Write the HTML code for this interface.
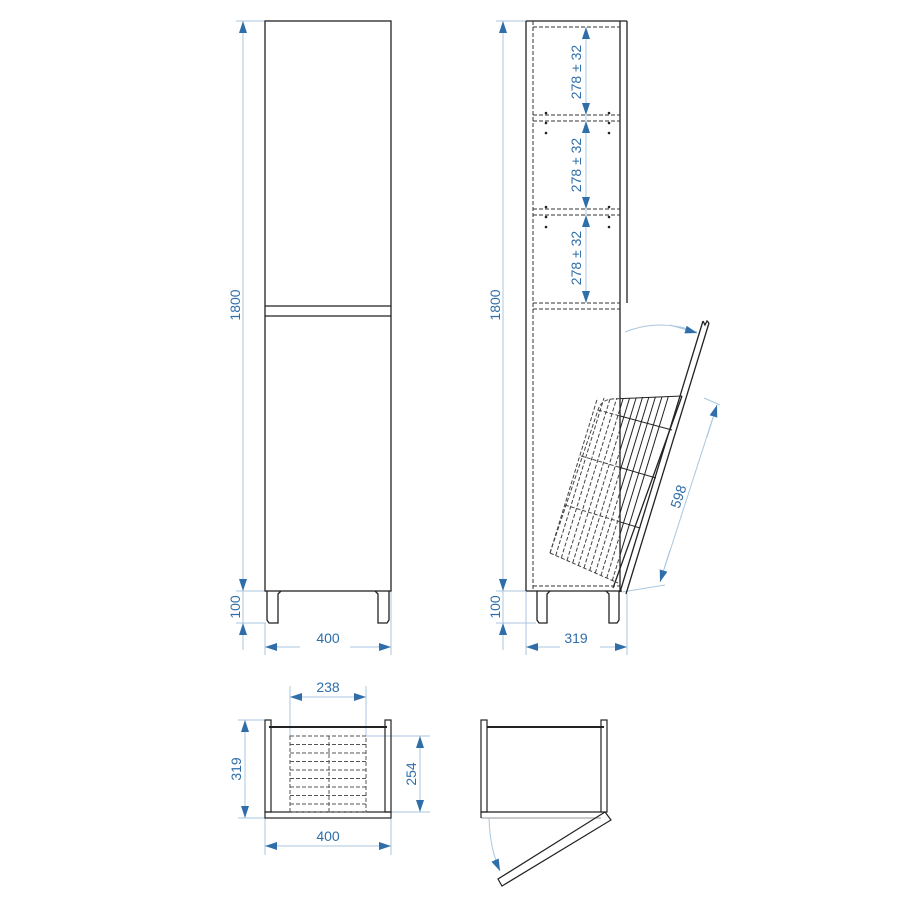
<!DOCTYPE html>
<html><head><meta charset="utf-8"><style>
html,body{margin:0;padding:0;background:#fff}
svg{display:block}
text{font-family:"Liberation Sans",sans-serif;fill:#2f6ea8;font-size:14px}
</style></head><body>
<svg width="900" height="900" viewBox="0 0 900 900" xmlns="http://www.w3.org/2000/svg">
<defs>
<marker id="a" markerWidth="12" markerHeight="8" refX="12" refY="4" orient="auto" markerUnits="userSpaceOnUse"><path d="M0,0 L12,4 L0,8 Z" fill="#2f6ea8"/></marker>
<clipPath id="cr"><rect x="620" y="0" width="200" height="900"/></clipPath>
<clipPath id="cl"><rect x="0" y="0" width="620" height="900"/></clipPath>
</defs>
<g stroke="#a9c7df" stroke-width="1" fill="none">
<line x1="236" y1="21" x2="265" y2="21"/>
<line x1="236" y1="591" x2="265" y2="591"/>
<line x1="236" y1="623" x2="266" y2="623"/>
<line x1="265" y1="623" x2="265" y2="655"/>
<line x1="391" y1="591" x2="391" y2="655"/>
<line x1="243" y1="21" x2="243" y2="640"/>
<line x1="496" y1="21" x2="526" y2="21"/>
<line x1="496" y1="591" x2="526" y2="591"/>
<line x1="496" y1="623" x2="536" y2="623"/>
<line x1="503" y1="21" x2="503" y2="640"/>
<line x1="526" y1="591" x2="526" y2="655"/>
<line x1="627" y1="594" x2="627" y2="655"/>
<line x1="586" y1="27" x2="586" y2="303"/>
<line x1="622" y1="592" x2="665" y2="585"/>
<line x1="704" y1="398" x2="720" y2="405"/>
<line x1="660" y1="582" x2="717" y2="405"/>
<path d="M625,332 Q660,318 697,332"/>
<line x1="290" y1="686" x2="290" y2="736"/>
<line x1="366" y1="686" x2="366" y2="736"/>
<line x1="290" y1="697" x2="366" y2="697"/>
<line x1="238" y1="720" x2="265" y2="720"/>
<line x1="238" y1="818" x2="265" y2="818"/>
<line x1="245" y1="720" x2="245" y2="818"/>
<line x1="366" y1="736" x2="430" y2="736"/>
<line x1="366" y1="812" x2="430" y2="812"/>
<line x1="420" y1="736" x2="420" y2="812"/>
<line x1="265" y1="818" x2="265" y2="855"/>
<line x1="391" y1="818" x2="391" y2="855"/>
<line x1="265" y1="846" x2="391" y2="846"/>
<path d="M489,818 Q490,850 500,870"/>
</g>
<g stroke="#a9c7df" stroke-width="1" fill="none">
<line x1="243" y1="60" x2="243" y2="21" marker-end="url(#a)"/>
<line x1="243" y1="560" x2="243" y2="591" marker-end="url(#a)"/>
<line x1="243" y1="650" x2="243" y2="623" marker-end="url(#a)"/>
<line x1="300" y1="647" x2="265" y2="647" marker-end="url(#a)"/>
<line x1="350" y1="647" x2="391" y2="647" marker-end="url(#a)"/>
<line x1="503" y1="60" x2="503" y2="21" marker-end="url(#a)"/>
<line x1="503" y1="560" x2="503" y2="591" marker-end="url(#a)"/>
<line x1="503" y1="650" x2="503" y2="623" marker-end="url(#a)"/>
<line x1="560" y1="647" x2="526" y2="647" marker-end="url(#a)"/>
<line x1="600" y1="647" x2="627" y2="647" marker-end="url(#a)"/>
<line x1="586" y1="60" x2="586" y2="27" marker-end="url(#a)"/>
<line x1="586" y1="90" x2="586" y2="115" marker-end="url(#a)"/>
<line x1="586" y1="150" x2="586" y2="121" marker-end="url(#a)"/>
<line x1="586" y1="180" x2="586" y2="209" marker-end="url(#a)"/>
<line x1="586" y1="240" x2="586" y2="215" marker-end="url(#a)"/>
<line x1="586" y1="270" x2="586" y2="303" marker-end="url(#a)"/>
<line x1="670" y1="550" x2="660" y2="582" marker-end="url(#a)"/>
<line x1="707" y1="437" x2="717" y2="405" marker-end="url(#a)"/>
<line x1="670" y1="325" x2="697" y2="333" marker-end="url(#a)"/>
<line x1="320" y1="697" x2="290" y2="697" marker-end="url(#a)"/>
<line x1="336" y1="697" x2="366" y2="697" marker-end="url(#a)"/>
<line x1="245" y1="750" x2="245" y2="720" marker-end="url(#a)"/>
<line x1="245" y1="790" x2="245" y2="818" marker-end="url(#a)"/>
<line x1="420" y1="760" x2="420" y2="736" marker-end="url(#a)"/>
<line x1="420" y1="790" x2="420" y2="812" marker-end="url(#a)"/>
<line x1="300" y1="846" x2="265" y2="846" marker-end="url(#a)"/>
<line x1="356" y1="846" x2="391" y2="846" marker-end="url(#a)"/>
<line x1="495" y1="860" x2="500" y2="871" marker-end="url(#a)"/>
</g>
<text transform="translate(240,305) rotate(-90)" text-anchor="middle">1800</text>
<text transform="translate(240,607) rotate(-90)" text-anchor="middle">100</text>
<text x="328" y="643" text-anchor="middle">400</text>
<text transform="translate(500,305) rotate(-90)" text-anchor="middle">1800</text>
<text transform="translate(500,607) rotate(-90)" text-anchor="middle">100</text>
<text x="576" y="643" text-anchor="middle">319</text>
<text transform="translate(581,72) rotate(-90)" text-anchor="middle">278 ± 32</text>
<text transform="translate(581,165) rotate(-90)" text-anchor="middle">278 ± 32</text>
<text transform="translate(581,258) rotate(-90)" text-anchor="middle">278 ± 32</text>
<text transform="translate(683,498) rotate(-72)" text-anchor="middle">598</text>
<text x="328" y="692" text-anchor="middle">238</text>
<text transform="translate(241,769) rotate(-90)" text-anchor="middle">319</text>
<text transform="translate(416,774) rotate(-90)" text-anchor="middle">254</text>
<text x="328" y="841" text-anchor="middle">400</text>
<g stroke="#222" stroke-width="1.3" fill="none">
<rect x="265" y="21" width="126" height="570"/>
<line x1="265" y1="306" x2="391" y2="306"/>
<line x1="265" y1="316" x2="391" y2="316"/>
<path d="M267,591 V620 L269,623 H278 V594 L281,591"/>
<path d="M389,591 V620 L387,623 H378 V594 L375,591"/>
</g>
<g stroke="#222" stroke-width="1.3" fill="none">
<line x1="526" y1="21" x2="526" y2="591"/>
<line x1="526" y1="21" x2="627" y2="21"/>
<line x1="627" y1="21" x2="627" y2="303"/>
<line x1="620" y1="21" x2="620" y2="592"/>
<line x1="526" y1="591" x2="622" y2="591"/>
<path d="M537,591 V620 L539,623 H547 V594 L550,591"/>
<path d="M619,591 V620 L617,623 H609 V594 L606,591"/>
<line x1="626" y1="594" x2="709" y2="323"/>
<line x1="620" y1="592" x2="703" y2="321"/>
<line x1="613" y1="588" x2="682" y2="396"/>
<path d="M703,321 L705,325 L707,321 L709,323"/>
</g>
<g stroke="#333" stroke-width="1" stroke-dasharray="4,2" fill="none">
<line x1="533" y1="21" x2="533" y2="591"/>
<line x1="533" y1="27" x2="620" y2="27"/>
<line x1="533" y1="115" x2="620" y2="115"/>
<line x1="533" y1="121" x2="620" y2="121"/>
<line x1="533" y1="209" x2="620" y2="209"/>
<line x1="533" y1="215" x2="620" y2="215"/>
<line x1="533" y1="303" x2="620" y2="303"/>
<line x1="533" y1="309" x2="620" y2="309"/>
<line x1="533" y1="586" x2="620" y2="586"/>
</g>
<g fill="#222">
<circle cx="546" cy="113" r="1.3"/><circle cx="546" cy="123" r="1.3"/><circle cx="546" cy="133" r="1.3"/>
<circle cx="609" cy="113" r="1.3"/><circle cx="609" cy="123" r="1.3"/><circle cx="609" cy="133" r="1.3"/>
<circle cx="546" cy="207" r="1.3"/><circle cx="546" cy="217" r="1.3"/><circle cx="546" cy="227" r="1.3"/>
<circle cx="609" cy="207" r="1.3"/><circle cx="609" cy="217" r="1.3"/><circle cx="609" cy="227" r="1.3"/>
</g>
<g id="bk" stroke-width="1" fill="none">
<path d="M550,553 L598,410 Q601,400 612,399 L682,396"/>
<line x1="550" y1="553" x2="618" y2="583"/>
<line x1="550" y1="553" x2="597.5" y2="398"/>
<line x1="555.7" y1="555.5" x2="604" y2="398"/>
<line x1="561.3" y1="558" x2="610.3" y2="398"/>
<line x1="567" y1="560.5" x2="616.8" y2="398"/>
<line x1="572.7" y1="563" x2="623.3" y2="398"/>
<line x1="578.3" y1="565.5" x2="629.6" y2="398"/>
<line x1="584" y1="568" x2="636.1" y2="398"/>
<line x1="589.7" y1="570.5" x2="642.6" y2="397"/>
<line x1="595.3" y1="573" x2="648.9" y2="397"/>
<line x1="601" y1="575.5" x2="655.4" y2="397"/>
<line x1="606.7" y1="578" x2="661.9" y2="397"/>
<line x1="612.3" y1="580.5" x2="668.2" y2="397"/>
<line x1="598" y1="410" x2="672" y2="430"/>
<line x1="581" y1="456" x2="656" y2="478"/>
<line x1="565" y1="505" x2="640" y2="528"/>
</g>
<use href="#bk" stroke="#444" stroke-dasharray="4,2" clip-path="url(#cl)"/>
<use href="#bk" stroke="#222" clip-path="url(#cr)"/>
<g stroke="#222" stroke-width="1.2" fill="none">
<rect x="265" y="720" width="6" height="92"/>
<rect x="385" y="720" width="6" height="92"/>
<rect x="265" y="812" width="126" height="6"/>
<line x1="269" y1="727" x2="387" y2="727" stroke-width="2"/>
</g>
<g stroke="#555" stroke-width="1" stroke-dasharray="4,2" fill="none">
<rect x="290" y="736" width="76" height="76"/>
<line x1="329" y1="736" x2="329" y2="812"/>
<line x1="290" y1="744.5" x2="366" y2="744.5"/>
<line x1="290" y1="753" x2="366" y2="753"/>
<line x1="290" y1="761.5" x2="366" y2="761.5"/>
<line x1="290" y1="770" x2="366" y2="770"/>
<line x1="290" y1="778.5" x2="366" y2="778.5"/>
<line x1="290" y1="787" x2="366" y2="787"/>
<line x1="290" y1="795.5" x2="366" y2="795.5"/>
<line x1="290" y1="804" x2="366" y2="804"/>
</g>
<g stroke="#222" stroke-width="1.2" fill="none">
<rect x="481" y="720" width="6" height="92"/>
<rect x="601" y="720" width="6" height="92"/>
<line x1="481" y1="812" x2="601" y2="812"/>
<line x1="481" y1="818" x2="601" y2="818" stroke="#aaa"/>
<line x1="481" y1="812" x2="481" y2="818"/>
<line x1="487" y1="727" x2="604" y2="727" stroke-width="2"/>
<path d="M605,812 L611,820 L502,886 L498,879 Z"/>
</g>
</svg>
</body></html>
